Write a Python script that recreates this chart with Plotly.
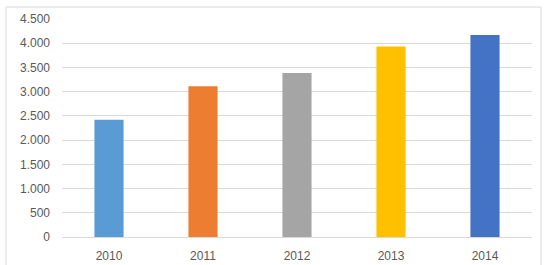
import plotly.graph_objects as go

years = ["2010", "2011", "2012", "2013", "2014"]
values = [2420, 3110, 3385, 3930, 4170]
colors = ["#5B9BD5", "#ED7D31", "#A5A5A5", "#FFC000", "#4472C4"]
y_ticks = [0, 500, 1000, 1500, 2000, 2500, 3000, 3500, 4000, 4500]

W, H = 546, 265
L, R, T, B = 62, 14, 19, 28
pw, ph = W - L - R, H - T - B

fig = go.Figure(go.Bar(x=years, y=values, marker=dict(color=colors, line=dict(width=0)), width=0.31))

def px(x):
    return (x - L) / pw

def py(y):
    return (H - B - y) / ph

fig.add_shape(type="rect", xref="paper", yref="paper",
              x0=px(6), x1=px(541), y0=py(272), y1=py(7),
              line=dict(color="#D9D9D9", width=1), fillcolor="rgba(0,0,0,0)", layer="below")

fig.update_layout(
    width=W, height=H,
    margin=dict(l=L, r=R, t=T, b=B, autoexpand=False),
    paper_bgcolor="white", plot_bgcolor="white",
    separators=",.",
    showlegend=False,
    font=dict(family="Liberation Sans", size=12, color="#595959"),
    xaxis=dict(showgrid=False, showline=True, linecolor="#D9D9D9", linewidth=1, automargin=False,
               ticks="", tickfont=dict(size=12, color="#595959"), ticklabelstandoff=8),
    yaxis=dict(range=[0, 4500], tickvals=y_ticks, tickformat=",d", showgrid=True, automargin=False,
               gridcolor="#D9D9D9", gridwidth=1, zeroline=False, showline=False,
               ticks="", ticklabelstandoff=11, tickfont=dict(size=12, color="#595959")),
)

fig.write_html("out.html")
